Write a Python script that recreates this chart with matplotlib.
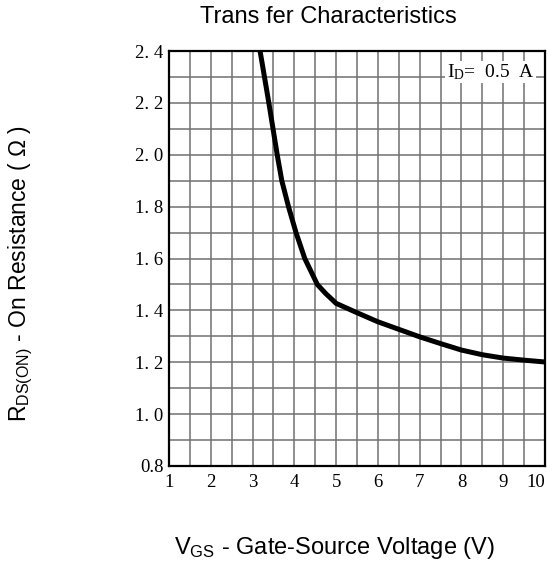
import matplotlib
matplotlib.use("Agg")
import matplotlib.pyplot as plt
import numpy as np

# Data
vgs = [3.18, 3.39, 3.59, 3.70, 3.86, 4.04, 4.25, 4.55, 4.75, 4.85, 5.0, 5.5,
       6.0, 6.5, 7.0, 7.5, 8.0, 8.5, 9.0, 9.5, 10.0]
rds = [2.40, 2.20, 2.00, 1.90, 1.80, 1.70, 1.60, 1.50, 1.465, 1.45, 1.427, 1.391,
       1.356, 1.327, 1.298, 1.272, 1.247, 1.229, 1.216, 1.208, 1.201]

x_ticks = [1, 2, 3, 4, 5, 6, 7, 8, 9, 10]
x_ticklabels = ['1', '2', '3', '4', '5', '6', '7', '8', '9', '10']
y_ticks = [0.8, 1.0, 1.2, 1.4, 1.6, 1.8, 2.0, 2.2, 2.4]
y_ticklabels = ['0.8', '1. 0', '1. 2', '1. 4', '1. 6', '1. 8', '2. 0', '2. 2', '2. 4']

plt.rcParams['mathtext.default'] = 'regular'

fig = plt.figure(figsize=(5.47, 5.72), dpi=100)
ax = fig.add_axes([169/547, 1-466/572, 376/547, 415/572])

ax.set_xlim(1, 10)
ax.set_ylim(0.8, 2.4)

ax.set_xticks(x_ticks)
ax.set_xticklabels(x_ticklabels, family='Liberation Serif', fontsize=13.5)
ax.set_yticks(y_ticks)
ax.set_yticklabels(y_ticklabels, family='Liberation Serif', fontsize=13.5)
ax.set_xticks(np.arange(1.5, 10, 1.0), minor=True)
ax.set_yticks(np.arange(0.9, 2.4, 0.2), minor=True)
ax.grid(which='both', color='#707070', linewidth=1.1)
ax.set_axisbelow(True)

ax.plot(vgs, rds, color='black', linewidth=3.6, solid_capstyle='butt',
        solid_joinstyle='round', zorder=3)

ax.tick_params(which='both', length=0)
ax.tick_params(axis='x', pad=6)
ax.tick_params(axis='y', pad=4)
lbls = ax.get_xticklabels()
lbls[-1].set_horizontalalignment('right')

for s in ax.spines.values():
    s.set_linewidth(1.6)
    s.set_color('black')

ax.text(8.7, 2.32, r'I$_{D}$=  0.5  A', family='Liberation Serif', fontsize=14,
        ha='center', va='center', zorder=4,
        bbox=dict(facecolor='white', edgecolor='none', pad=1.0))

fig.text(328/547, 1-17/572, 'Trans fer Characteristics', family='Liberation Sans',
         fontsize=17, ha='center', va='center')
fig.text(334/547, 1-548/572, r'V$_{GS}$ - Gate-Source Voltage (V)', family='Liberation Sans',
         fontsize=17, ha='center', va='center')
fig.text(21/547, 1-274/572, r'R$_{DS(ON)}$ - On Resistance ( Ω )', family='Liberation Sans',
         fontsize=16.5, ha='center', va='center', rotation=90)

fig.savefig('out.png', dpi=100)
